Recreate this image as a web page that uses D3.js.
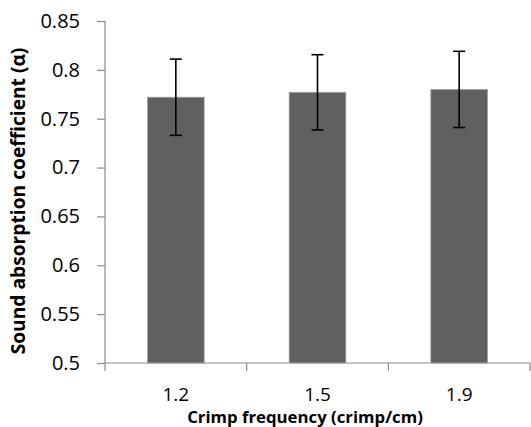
<!DOCTYPE html>
<html>
<head>
<meta charset="utf-8">
<script src="https://cdn.jsdelivr.net/npm/d3@7"></script>
<style>
  body { margin: 0; background: #fff; }
  text { font-family: "Open Sans", sans-serif; }
</style>
</head>
<body>
<div id="chart"></div>
<script>
var categories = ["1.2", "1.5", "1.9"];
var values = [0.772, 0.777, 0.780];
var errors = [0.039, 0.0385, 0.039];
var yTicks = [0.5, 0.55, 0.6, 0.65, 0.7, 0.75, 0.8, 0.85];

var margin = {top: 21, right: 1, bottom: 64, left: 105},
    width = 531 - margin.left - margin.right,
    height = 427 - margin.top - margin.bottom;

var svg = d3.select("#chart")
  .append("svg")
    .attr("width", 531)
    .attr("height", 427)
  .append("g")
    .attr("transform", "translate(" + margin.left + "," + margin.top + ")");

var x = d3.scaleBand()
  .range([0, width])
  .domain(categories)
  .paddingInner(0.6)
  .paddingOuter(0.3);

var y = d3.scaleLinear()
  .domain([0.5, 0.85])
  .range([height, 0]);

var data = categories.map(function(c, i) {
  return {cat: c, value: values[i], err: errors[i]};
});

// bars
svg.selectAll("rect.bar")
  .data(data)
  .enter().append("rect")
    .attr("class", "bar")
    .attr("x", function(d) { return x(d.cat); })
    .attr("y", function(d) { return y(d.value); })
    .attr("width", x.bandwidth())
    .attr("height", function(d) { return height - y(d.value); })
    .attr("fill", "#606060")
    .attr("stroke", "#a0a0a0")
    .attr("stroke-width", 0.8);

// error bars
var eb = svg.selectAll("g.err").data(data).enter().append("g")
  .attr("stroke", "#000")
  .attr("stroke-width", 1.6);
eb.append("line")
  .attr("x1", function(d) { return x(d.cat) + x.bandwidth() / 2; })
  .attr("x2", function(d) { return x(d.cat) + x.bandwidth() / 2; })
  .attr("y1", function(d) { return y(d.value + d.err); })
  .attr("y2", function(d) { return y(d.value - d.err); });
[1, -1].forEach(function(s) {
  eb.append("line")
    .attr("x1", function(d) { return x(d.cat) + x.bandwidth() / 2 - 6; })
    .attr("x2", function(d) { return x(d.cat) + x.bandwidth() / 2 + 6; })
    .attr("y1", function(d) { return y(d.value + s * d.err); })
    .attr("y2", function(d) { return y(d.value + s * d.err); });
});

// Y axis
var yAxis = svg.append("g")
  .call(d3.axisLeft(y).tickValues(yTicks).tickSize(8).tickPadding(17)
    .tickFormat(function(d) { return String(+d.toFixed(2)); }));
yAxis.selectAll("path, line").attr("stroke", "#8c8c8c").attr("stroke-width", 1.2);
yAxis.select("path").attr("d", "M0,0V" + height);
yAxis.selectAll("text").attr("font-size", 20).attr("fill", "#000")
  .style("font-family", "'Open Sans', sans-serif");

// X axis with ticks at band edges
var xAxis = svg.append("g")
  .attr("transform", "translate(0," + height + ")");
xAxis.append("line")
  .attr("x1", 0).attr("x2", width)
  .attr("stroke", "#8c8c8c").attr("stroke-width", 1.2);
var step = width / categories.length;
xAxis.selectAll("line.tk")
  .data(d3.range(categories.length + 1))
  .enter().append("line")
    .attr("class", "tk")
    .attr("x1", function(i) { return i * step; })
    .attr("x2", function(i) { return i * step; })
    .attr("y1", 0).attr("y2", 8)
    .attr("stroke", "#8c8c8c").attr("stroke-width", 1.2);
xAxis.selectAll("text.lbl")
  .data(categories)
  .enter().append("text")
    .attr("class", "lbl")
    .attr("x", function(d) { return x(d) + x.bandwidth() / 2; })
    .attr("y", 38)
    .attr("text-anchor", "middle")
    .attr("font-size", 19)
    .text(function(d) { return d; });

// fit a title to a target width by scaling its font size
function fitText(t, target) {
  var w = t.node().getComputedTextLength();
  var fs = parseFloat(t.attr("font-size"));
  t.attr("font-size", fs * target / w);
}

// axis titles
var xTitle = svg.append("text")
  .attr("x", 200)
  .attr("y", height + 60)
  .attr("text-anchor", "middle")
  .attr("font-size", 15)
  .attr("font-weight", "bold")
  .text("Crimp frequency (crimp/cm)");
fitText(xTitle, 236);

var yTitle = svg.append("text")
  .attr("transform", "translate(" + (-80) + "," + 180 + ") rotate(-90)")
  .attr("text-anchor", "middle")
  .attr("font-size", 15)
  .attr("font-weight", "bold")
  .text("Sound absorption coefficient (α)");
fitText(yTitle, 307);
</script>
</body>
</html>
